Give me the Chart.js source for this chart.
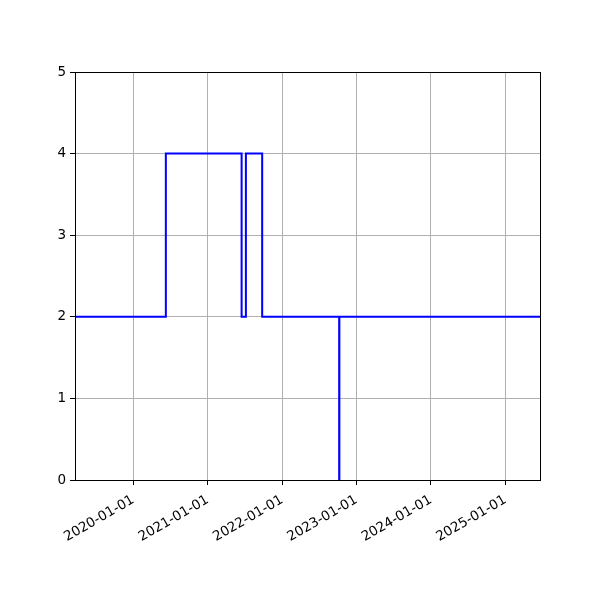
<!DOCTYPE html>
<html>
<head>
<meta charset="utf-8">
<script src="https://cdn.jsdelivr.net/npm/chart.js@4"></script>
<style>
  html, body { margin: 0; padding: 0; background: #fff; }
  #wrap { width: 600px; height: 600px; }
</style>
</head>
<body>
<div id="wrap"><canvas id="stepChart" width="600" height="600"></canvas></div>
<script>
// step series (value holds until next date)
const stepDates = ['2019-03-21', '2020-06-09', '2021-06-16', '2021-07-07', '2021-09-25', '2022-10-08', '2022-10-09', '2025-06-20'];
const stepValues = [2, 4, 2, 4, 2, 0, 2, 2];
const xTickDates = ['2020-01-01', '2021-01-01', '2022-01-01', '2023-01-01', '2024-01-01', '2025-01-01'];
const yTicks = [0, 1, 2, 3, 4, 5];

const toMs = d => Date.parse(d + 'T00:00:00Z');
const points = stepDates.map((d, i) => ({ x: toMs(d), y: stepValues[i] }));

// matplotlib-ish full box around the plot
const boxPlugin = {
  id: 'box',
  afterDraw(chart) {
    const { ctx, chartArea: a } = chart;
    ctx.save();
    ctx.strokeStyle = '#000';
    ctx.lineWidth = 1;
    ctx.strokeRect(Math.round(a.left) + 0.5, Math.round(a.top) + 0.5, Math.round(a.right - a.left), Math.round(a.bottom - a.top));
    ctx.restore();
  }
};

const font = { family: "'DejaVu Sans', sans-serif", size: 13.5 };

new Chart(document.getElementById('stepChart'), {
  type: 'line',
  data: {
    datasets: [{
      data: points,
      // chart.js 'before' = value holds from a point until the next one
      stepped: 'before',
      borderColor: '#0000ff',
      borderWidth: 2,
      pointRadius: 0,
      fill: false
    }]
  },
  options: {
    responsive: false,
    animation: false,
    layout: { padding: { top: 72, right: 60, left: 0, bottom: 0 } },
    plugins: { legend: { display: false }, tooltip: { enabled: false } },
    scales: {
      x: {
        type: 'linear',
        min: toMs(stepDates[0]),
        max: toMs(stepDates[stepDates.length - 1]),
        afterBuildTicks: axis => { axis.ticks = xTickDates.map(d => ({ value: toMs(d) })); },
        afterFit: axis => { axis.height = 120; },
        grid: { color: '#b0b0b0', lineWidth: 1, tickColor: '#000', tickLength: 5 },
        border: { color: '#000' },
        ticks: {
          color: '#000',
          font: font,
          maxRotation: 30,
          minRotation: 30,
          padding: 7,
          callback: v => new Date(v).toISOString().slice(0, 10)
        }
      },
      y: {
        min: 0,
        max: 5,
        afterBuildTicks: axis => { axis.ticks = yTicks.map(v => ({ value: v })); },
        afterFit: axis => { axis.width = 75; },
        grid: { color: '#b0b0b0', lineWidth: 1, tickColor: '#000', tickLength: 5 },
        border: { color: '#000' },
        ticks: { color: '#000', font: font, padding: 4 }
      }
    }
  },
  plugins: [boxPlugin]
});
</script>
</body>
</html>
